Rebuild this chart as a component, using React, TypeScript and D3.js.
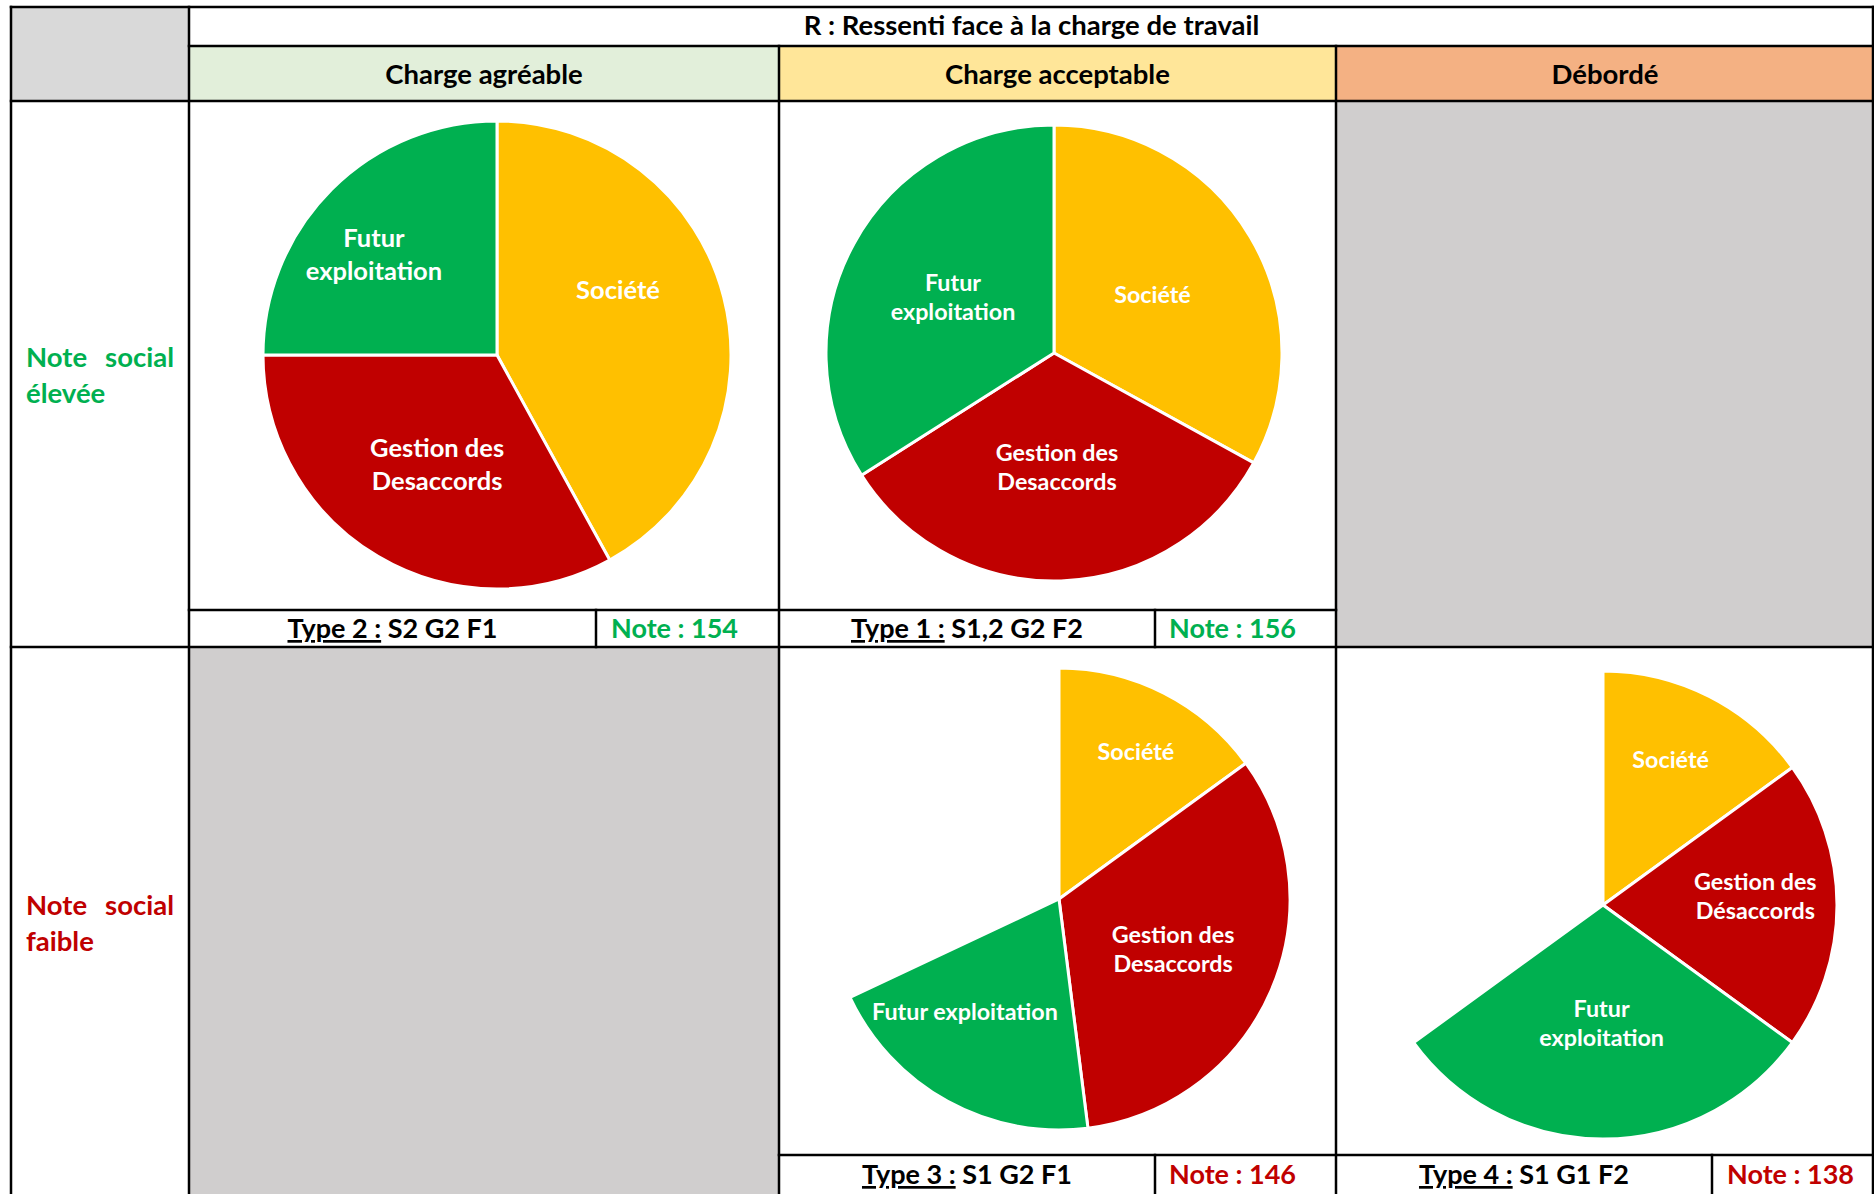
import React from "react";
import * as d3 from "d3";

// ---------- DATA ----------
const tableTitle = "R : Ressenti face à la charge de travail";
const columnHeaders = ["Charge agréable", "Charge acceptable", "Débordé"];
const rowLabelFirstLine = [["Note", "social"], ["Note", "social"]];
const rowLabelSecondLine = ["élevée", "faible"];

// slice order: Société, Gestion des Désaccords, Futur exploitation, (part non représentée)
const sliceCategories = ["Société", "Gestion des Desaccords", "Futur exploitation", "vide"];
const type2Values = [42, 33, 25, 0];
const type1Values = [33, 33, 34, 0];
const type3Values = [15, 33, 20, 32];
const type4Values = [15, 20, 30, 35];

const typeNames = ["Type 2", "Type 1", "Type 3", "Type 4"];
const typeCodes = ["S2 G2 F1", "S1,2 G2 F2", "S1 G2 F1", "S1 G1 F2"];
const typeNotes = [154, 156, 146, 138];

const type2Labels = [["Société"], ["Gestion des", "Desaccords"], ["Futur", "exploitation"]];
const type1Labels = [["Société"], ["Gestion des", "Desaccords"], ["Futur", "exploitation"]];
const type3Labels = [["Société"], ["Gestion des", "Desaccords"], ["Futur exploitation"]];
const type4Labels = [["Société"], ["Gestion des", "Désaccords"], ["Futur", "exploitation"]];

// ---------- STYLE / LAYOUT ----------
const W = 1874;
const H = 1194;
const FONT = "Lato, 'Open Sans', sans-serif";
const sliceColors = ["#FFC000", "#C00000", "#00B050", "none"];
const headerFills = ["#E2EFDA", "#FFE699", "#F4B183"];
const GREEN = "#00B050";
const RED = "#C00000";
const EMPTY = "#D0CECE";

const X = { left: 11, c1: 189, c2: 779, c3: 1336, right: 1874 };
const Y = { top: 7, title: 46, header: 101, foot1: 610, row: 647, foot2: 1155, bottom: 1194 };

const pies = [
  { values: type2Values, labels: type2Labels, cx: 497, cy: 355, r: 234, font: 25.5, lh: 33,
    pos: [[0.517, -0.282], [-0.256, 0.464], [-0.526, -0.432]] },
  { values: type1Values, labels: type1Labels, cx: 1054, cy: 353, r: 228, font: 23.3, lh: 29,
    pos: [[0.432, -0.259], [0.013, 0.498], [-0.443, -0.248]] },
  { values: type3Values, labels: type3Labels, cx: 1059, cy: 899, r: 231, font: 23.3, lh: 29,
    pos: [[0.333, -0.64], [0.494, 0.215], [-0.407, 0.484]] },
  { values: type4Values, labels: type4Labels, cx: 1603, cy: 905, r: 234, font: 23.3, lh: 29,
    pos: [[0.289, -0.624], [0.651, -0.04], [-0.006, 0.504]] },
];

const footers = [
  { typeX: (X.c1 + 596) / 2, noteX: 596 + 15, baseline: 638, color: GREEN },
  { typeX: (X.c2 + 1155) / 2, noteX: 1155 + 14, baseline: 638, color: GREEN },
  { typeX: (X.c2 + 1155) / 2, noteX: 1155 + 14, baseline: 1184, color: RED },
  { typeX: (X.c3 + 1712) / 2, noteX: 1712 + 15, baseline: 1184, color: RED },
];

const pieGen = d3
  .pie<number>()
  .sort(null)
  .value((d) => d)
  .startAngle(0)
  .endAngle(2 * Math.PI);

function Pie({ p }: { p: (typeof pies)[number] }) {
  const arcs = pieGen(p.values);
  const arc = d3.arc<d3.PieArcDatum<number>>().innerRadius(0).outerRadius(p.r);
  return (
    <g transform={`translate(${p.cx},${p.cy})`}>
      {arcs.map((a, i) =>
        a.value > 0 && sliceColors[i] !== "none" ? (
          <path key={sliceCategories[i]} d={arc(a) || ""} fill={sliceColors[i]} stroke="#fff" strokeWidth={3} strokeLinejoin="round" />
        ) : null
      )}
      {p.labels.map((lines, i) => {
        const lx = p.pos[i][0] * p.r;
        const ly = p.pos[i][1] * p.r;
        const n = lines.length;
        return (
          <text key={i} x={lx} y={ly} textAnchor="middle" fill="#fff" fontFamily={FONT} fontWeight={700} fontSize={p.font}>
            {lines.map((ln, j) => (
              <tspan key={j} x={lx} y={ly + (j - (n - 1) / 2) * p.lh} dominantBaseline="central">
                {ln}
              </tspan>
            ))}
          </text>
        );
      })}
    </g>
  );
}

export default function App() {
  const lines: [number, number, number, number][] = [
    // horizontals
    [X.left, Y.top, X.right, Y.top],
    [X.c1, Y.title, X.right, Y.title],
    [X.left, Y.header, X.right, Y.header],
    [X.c1, Y.foot1, X.c3, Y.foot1],
    [X.left, Y.row, X.right, Y.row],
    [X.c2, Y.foot2, X.right, Y.foot2],
    // verticals
    [X.left, Y.top, X.left, Y.bottom],
    [X.c1, Y.top, X.c1, Y.bottom],
    [X.c2, Y.title, X.c2, Y.bottom],
    [X.c3, Y.title, X.c3, Y.bottom],
    [X.right - 1, Y.top, X.right - 1, Y.bottom],
    [596, Y.foot1, 596, Y.row],
    [1155, Y.foot1, 1155, Y.row],
    [1155, Y.foot2, 1155, Y.bottom],
    [1712, Y.foot2, 1712, Y.bottom],
  ];
  const colX = [X.c1, X.c2, X.c3, X.right];
  const rowYs = [
    { color: GREEN, base: 367 },
    { color: RED, base: 915 },
  ];

  return (
    <div style={{ position: "absolute", left: 0, top: 0 }}>
      <svg width={W} height={H} viewBox={`0 0 ${W} ${H}`} style={{ display: "block", background: "#fff" }}>
        <rect x={0} y={0} width={W} height={H} fill="#fff" />
        {/* top-left grey */}
        <rect x={X.left} y={Y.top} width={X.c1 - X.left} height={Y.header - Y.top} fill="#D9D9D9" />
        {/* header fills */}
        {columnHeaders.map((h, i) => (
          <rect key={h} x={colX[i]} y={Y.title} width={colX[i + 1] - colX[i]} height={Y.header - Y.title} fill={headerFills[i]} />
        ))}
        {/* empty cells */}
        <rect x={X.c3} y={Y.header} width={X.right - X.c3} height={Y.row - Y.header} fill={EMPTY} />
        <rect x={X.c1} y={Y.row} width={X.c2 - X.c1} height={Y.bottom - Y.row} fill={EMPTY} />

        {/* title */}
        <text x={(X.c1 + X.right) / 2} y={35} textAnchor="middle" fontFamily={FONT} fontWeight={700} fontSize={27.5} fill="#000">
          {tableTitle}
        </text>
        {columnHeaders.map((h, i) => (
          <text key={h} x={(colX[i] + colX[i + 1]) / 2} y={84} textAnchor="middle" fontFamily={FONT} fontWeight={700} fontSize={27.5} fill="#000">
            {h}
          </text>
        ))}

        {/* row labels */}
        {rowYs.map((r, i) => (
          <g key={i} fontFamily={FONT} fontWeight={700} fontSize={27.5} fill={r.color}>
            <text x={26} y={r.base} textAnchor="start">{rowLabelFirstLine[i][0]}</text>
            <text x={174} y={r.base} textAnchor="end">{rowLabelFirstLine[i][1]}</text>
            <text x={26} y={r.base + 36} textAnchor="start">{rowLabelSecondLine[i]}</text>
          </g>
        ))}

        {/* pies */}
        {pies.map((p, i) => (
          <Pie key={i} p={p} />
        ))}

        {/* footers */}
        {footers.map((f, i) => (
          <g key={i} fontFamily={FONT} fontWeight={700} fontSize={27}>
            <text x={f.typeX} y={f.baseline} textAnchor="middle" fill="#000" style={{ whiteSpace: "pre" }}>
              <tspan style={{ textDecoration: "underline", textDecorationThickness: "2px" } as React.CSSProperties}>{`${typeNames[i]} :`}</tspan>
              <tspan>{` ${typeCodes[i]}`}</tspan>
            </text>
            <text x={f.noteX} y={f.baseline} textAnchor="start" fill={f.color}>
              {`Note : ${typeNotes[i]}`}
            </text>
          </g>
        ))}

        {/* grid lines */}
        {lines.map((l, i) => (
          <line key={i} x1={l[0]} y1={l[1]} x2={l[2]} y2={l[3]} stroke="#000" strokeWidth={2.5} strokeLinecap="square" />
        ))}
      </svg>
    </div>
  );
}
